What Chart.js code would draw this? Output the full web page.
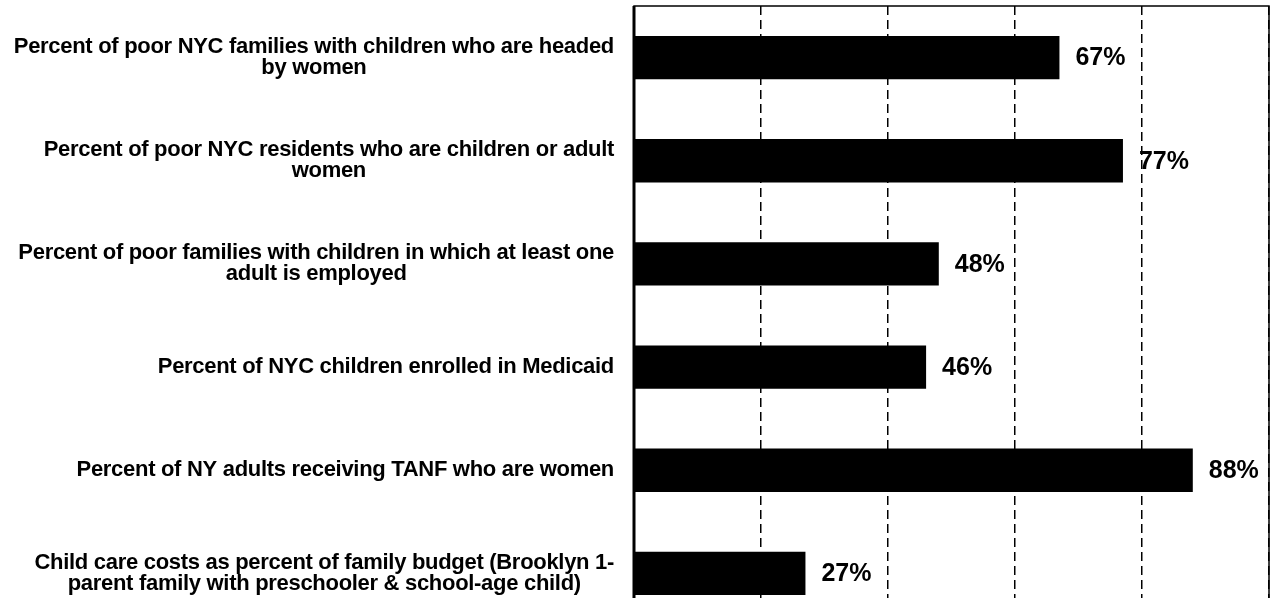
<!DOCTYPE html>
<html>
<head>
<meta charset="utf-8">
<script src="https://cdn.jsdelivr.net/npm/chart.js@4.4.0/dist/chart.umd.min.js"></script>
<style>
  html, body { margin: 0; padding: 0; background: #fff; overflow: hidden; }
  #wrap { width: 1271px; height: 598px; overflow: hidden; }
</style>
</head>
<body>
<div id="wrap"><canvas id="myChart" width="1271" height="630"></canvas></div>
<script>
var categories = [
    ["Percent of poor NYC families with children who are headed", "by women"],
    ["Percent of poor NYC residents who are children or adult", "women"],
    ["Percent of poor families with children in which at least one", "adult is employed"],
    ["Percent of NYC children enrolled in Medicaid"],
    ["Percent of NY adults receiving TANF who are women"],
    ["Child care costs as percent of family budget (Brooklyn 1-", "parent family with preschooler & school-age child)"]
];
var values = [67, 77, 48, 46, 88, 27];
var xTicks = [0, 20, 40, 60, 80, 100];

var FONT = "'Liberation Sans', Arial, sans-serif";

// category labels: block right aligned, lines centered inside the block
var catLabels = {
    id: 'catLabels',
    afterDraw: function (chart) {
        var ctx = chart.ctx;
        var yScale = chart.scales.y;
        var right = 614;
        ctx.save();
        ctx.font = "bold 22px " + FONT;
        ctx.letterSpacing = "-0.3px";
        ctx.fillStyle = "#000";
        ctx.textBaseline = "middle";
        ctx.textAlign = "center";
        categories.forEach(function (lines, i) {
            var w = 0;
            lines.forEach(function (l) { w = Math.max(w, ctx.measureText(l).width); });
            var cx = right - w / 2;
            var cy = yScale.getPixelForValue(i);
            var lh = 21;
            var y0 = cy - (lines.length - 1) * lh / 2;
            lines.forEach(function (l, k) {
                ctx.fillText(l, cx, y0 + k * lh);
            });
        });
        ctx.restore();
    }
};

var valueLabels = {
    id: 'valueLabels',
    afterDatasetsDraw: function (chart) {
        var ctx = chart.ctx;
        var meta = chart.getDatasetMeta(0);
        ctx.save();
        ctx.font = "bold 25px " + FONT;
        ctx.fillStyle = "#000";
        ctx.textBaseline = "middle";
        ctx.textAlign = "left";
        meta.data.forEach(function (bar, i) {
            ctx.fillText(values[i] + "%", bar.x + 16, bar.y + 1);
        });
        ctx.restore();
    }
};

var plotBox = {
    id: 'plotBox',
    afterDraw: function (chart) {
        var a = chart.chartArea;
        var ctx = chart.ctx;
        ctx.save();
        ctx.strokeStyle = "#000";
        ctx.lineWidth = 1.5;
        ctx.strokeRect(a.left, a.top, a.right - a.left, a.bottom - a.top);
        ctx.lineWidth = 3;
        ctx.beginPath();
        ctx.moveTo(a.left, a.top);
        ctx.lineTo(a.left, a.bottom);
        ctx.stroke();
        ctx.restore();
    }
};

function renderChart() {
    var ctx = document.getElementById("myChart").getContext('2d');
    var myChart = new Chart(ctx, {
        type: 'bar',
        data: {
            labels: categories,
            datasets: [{
                data: values,
                backgroundColor: '#000',
                borderWidth: 0,
                categoryPercentage: 1,
                barPercentage: 0.42
            }]
        },
        options: {
            indexAxis: 'y',
            responsive: false,
            animation: false,
            devicePixelRatio: 1,
            layout: { padding: { left: 634, top: 6, right: 2, bottom: 5 } },
            plugins: { legend: { display: false }, tooltip: { enabled: false } },
            scales: {
                x: {
                    min: xTicks[0],
                    max: xTicks[xTicks.length - 1],
                    afterBuildTicks: function (axis) {
                        axis.ticks = xTicks.map(function (v) { return { value: v }; });
                    },
                    ticks: { display: false },
                    grid: { color: '#000', lineWidth: 1.5, drawTicks: false },
                    border: { display: false, dash: [9, 5] }
                },
                y: {
                    ticks: { display: false },
                    grid: { display: false, drawTicks: false },
                    border: { display: false }
                }
            }
        },
        plugins: [catLabels, valueLabels, plotBox]
    });
}

renderChart();
</script>
</body>
</html>
